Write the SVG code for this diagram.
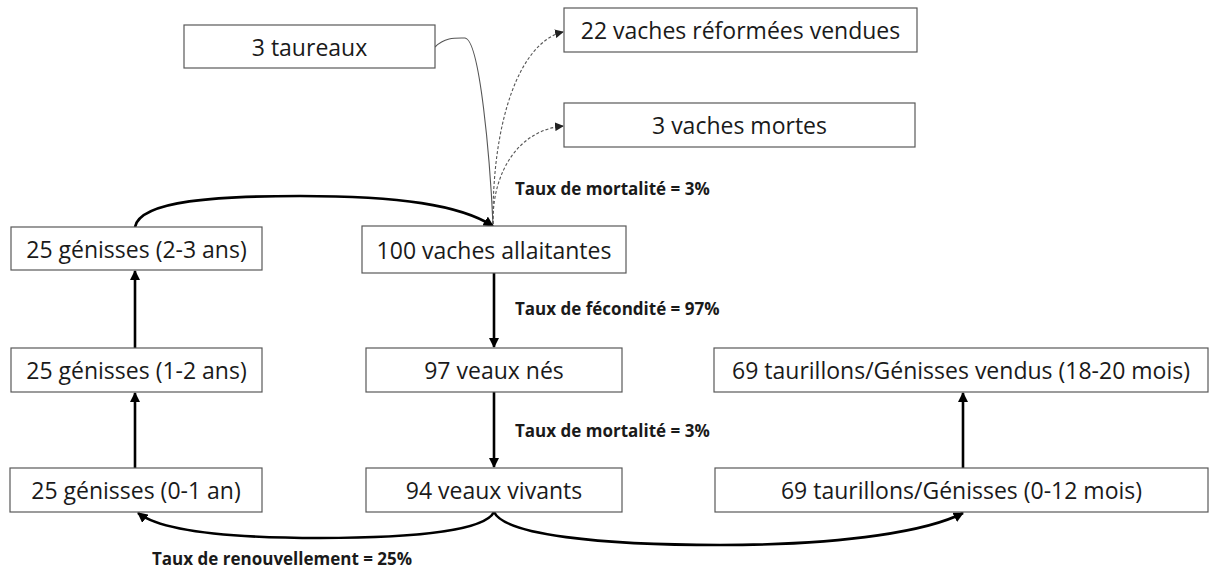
<svg xmlns="http://www.w3.org/2000/svg" width="1209" height="573" viewBox="0 0 1209 573">
<style>
.box{fill:#fff;stroke:#595959;stroke-width:1.2}
.t{font-family:"Open Sans","Liberation Sans",sans-serif;font-size:23px;fill:#1a1a1a;text-anchor:middle;dominant-baseline:central}
.lb{font-family:"Open Sans","Liberation Sans",sans-serif;font-size:17px;font-weight:bold;fill:#1a1a1a;dominant-baseline:central}
.thick{fill:none;stroke:#000;stroke-width:2.6}
.thin{fill:none;stroke:#555;stroke-width:1.1}
.dash{fill:none;stroke:#555;stroke-width:1.1;stroke-dasharray:3,2}
</style>
<defs>
<marker id="ah" viewBox="0 0 10 10" refX="9" refY="5" markerWidth="4" markerHeight="4" orient="auto" markerUnits="strokeWidth"><path d="M0,0 L10,5 L0,10 z" fill="#000"/></marker>
<marker id="ahs" viewBox="0 0 10 10" refX="9" refY="5" markerWidth="8" markerHeight="8" orient="auto" markerUnits="strokeWidth"><path d="M0,0 L10,5 L0,10 z" fill="#222"/></marker>
</defs>
<g id="connectors">
<path class="thin" d="M435,47 C445,37 456,38 465,38 C480,40 490,160 493,224"/>
<path class="dash" d="M493,224 C492,120 520,42 563,32" marker-end="url(#ahs)"/>
<path class="dash" d="M493,224 C492,170 520,130 563,126" marker-end="url(#ahs)"/>
<path class="thick" d="M135,227 C140,200 220,196 300,196 C400,196 460,205 493,226" marker-end="url(#ah)"/>
<path class="thick" d="M494,273 L494,347" marker-end="url(#ah)"/>
<path class="thick" d="M494,392 L494,467" marker-end="url(#ah)"/>
<path class="thick" d="M135,468 L135,393" marker-end="url(#ah)"/>
<path class="thick" d="M135,348 L135,271" marker-end="url(#ah)"/>
<path class="thick" d="M963,468 L963,393" marker-end="url(#ah)"/>
<path class="thick" d="M494,512 C485,530 420,538 320,538 C220,538 160,530 138,513" marker-end="url(#ah)"/>
<path class="thick" d="M494,512 C505,535 600,545 720,545 C850,545 930,530 963,513" marker-end="url(#ah)"/>
</g>
<g id="n-taureaux"><rect class="box" x="184" y="25" width="251" height="43"/><text class="t" x="309.5" y="47">3 taureaux</text></g>
<g id="n-reformees"><rect class="box" x="564" y="8" width="353" height="44"/><text class="t" x="740.5" y="30">22 vaches réformées vendues</text></g>
<g id="n-mortes"><rect class="box" x="564" y="103" width="351" height="44"/><text class="t" x="739.5" y="125">3 vaches mortes</text></g>
<g id="n-gen23"><rect class="box" x="11" y="227" width="251" height="43"/><text class="t" x="136.5" y="248.5">25 génisses (2-3 ans)</text></g>
<g id="n-vaches"><rect class="box" x="362" y="226" width="264" height="47"/><text class="t" x="494" y="249.5">100 vaches allaitantes</text></g>
<g id="n-gen12"><rect class="box" x="11" y="348" width="251" height="44"/><text class="t" x="136.5" y="370">25 génisses (1-2 ans)</text></g>
<g id="n-veauxnes"><rect class="box" x="366" y="348" width="256" height="44"/><text class="t" x="494" y="370">97 veaux nés</text></g>
<g id="n-vendus"><rect class="box" x="714" y="348" width="494" height="44"/><text class="t" x="961" y="370">69 taurillons/Génisses vendus (18-20 mois)</text></g>
<g id="n-gen01"><rect class="box" x="10" y="468" width="252" height="44"/><text class="t" x="136" y="490">25 génisses (0-1 an)</text></g>
<g id="n-vivants"><rect class="box" x="366" y="468" width="256" height="44"/><text class="t" x="494" y="490">94 veaux vivants</text></g>
<g id="n-taurillons"><rect class="box" x="715" y="468" width="493" height="44"/><text class="t" x="961.5" y="490">69 taurillons/Génisses (0-12 mois)</text></g>
<g id="labels">
<text class="lb" x="515" y="188">Taux de mortalité = 3%</text>
<text class="lb" x="515" y="308">Taux de fécondité = 97%</text>
<text class="lb" x="515" y="430">Taux de mortalité = 3%</text>
<text class="lb" x="152" y="558">Taux de renouvellement = 25%</text>
</g>
</svg>
